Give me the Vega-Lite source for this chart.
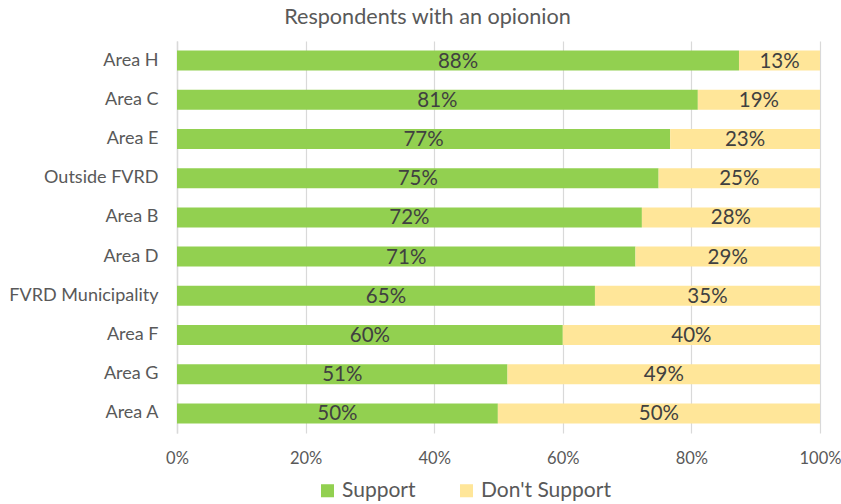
{
  "$schema": "https://vega.github.io/schema/vega-lite/v6.json",
  "width": 643,
  "height": 392,
  "autosize": "none",
  "padding": {"left": 177, "top": 41, "right": 21, "bottom": 71},
  "background": "white",
  "view": {"stroke": null},
  "title": {
    "text": "Respondents with an opionion",
    "anchor": "middle",
    "dx": -71,
    "offset": 12,
    "font": "Lato",
    "fontSize": 21.6,
    "fontWeight": "normal",
    "color": "#595959"
  },
  "data": {
    "values": [
      {"area": "Area H", "status": "Support", "ord": 1, "value": 87.4, "label": "88%"},
      {"area": "Area H", "status": "Don't Support", "ord": 2, "value": 12.6, "label": "13%"},
      {"area": "Area C", "status": "Support", "ord": 1, "value": 81.0, "label": "81%"},
      {"area": "Area C", "status": "Don't Support", "ord": 2, "value": 19.0, "label": "19%"},
      {"area": "Area E", "status": "Support", "ord": 1, "value": 76.7, "label": "77%"},
      {"area": "Area E", "status": "Don't Support", "ord": 2, "value": 23.3, "label": "23%"},
      {"area": "Outside FVRD", "status": "Support", "ord": 1, "value": 74.9, "label": "75%"},
      {"area": "Outside FVRD", "status": "Don't Support", "ord": 2, "value": 25.1, "label": "25%"},
      {"area": "Area B", "status": "Support", "ord": 1, "value": 72.3, "label": "72%"},
      {"area": "Area B", "status": "Don't Support", "ord": 2, "value": 27.7, "label": "28%"},
      {"area": "Area D", "status": "Support", "ord": 1, "value": 71.3, "label": "71%"},
      {"area": "Area D", "status": "Don't Support", "ord": 2, "value": 28.7, "label": "29%"},
      {"area": "FVRD Municipality", "status": "Support", "ord": 1, "value": 65.0, "label": "65%"},
      {"area": "FVRD Municipality", "status": "Don't Support", "ord": 2, "value": 35.0, "label": "35%"},
      {"area": "Area F", "status": "Support", "ord": 1, "value": 60.0, "label": "60%"},
      {"area": "Area F", "status": "Don't Support", "ord": 2, "value": 40.0, "label": "40%"},
      {"area": "Area G", "status": "Support", "ord": 1, "value": 51.4, "label": "51%"},
      {"area": "Area G", "status": "Don't Support", "ord": 2, "value": 48.6, "label": "49%"},
      {"area": "Area A", "status": "Support", "ord": 1, "value": 49.9, "label": "50%"},
      {"area": "Area A", "status": "Don't Support", "ord": 2, "value": 50.1, "label": "50%"}
    ]
  },
  "transform": [
    {"stack": "value", "groupby": ["area"], "sort": [{"field": "ord", "order": "ascending"}], "as": ["v0", "v1"]},
    {"calculate": "(datum.v0 + datum.v1) / 2", "as": "vmid"}
  ],
  "encoding": {
    "y": {
      "field": "area",
      "type": "nominal",
      "sort": ["Area H", "Area C", "Area E", "Outside FVRD", "Area B", "Area D", "FVRD Municipality", "Area F", "Area G", "Area A"],
      "scale": {"paddingInner": 0.49, "paddingOuter": 0.245},
      "axis": {
        "title": null,
        "ticks": false,
        "domain": true,
        "domainColor": "#d9d9d9",
        "domainWidth": 1.5,
        "labelFont": "Lato",
        "labelFontSize": 18,
        "labelColor": "#595959",
        "labelPadding": 19
      }
    }
  },
  "layer": [
    {
      "mark": {"type": "bar"},
      "encoding": {
        "x": {
          "field": "v0",
          "type": "quantitative",
          "scale": {"domain": [0, 100], "nice": false},
          "axis": {
            "title": null,
            "values": [0, 20, 40, 60, 80, 100],
            "labelExpr": "datum.value + '%'",
            "labelFlush": false,
            "ticks": false,
            "domain": false,
            "grid": true,
            "gridColor": "#d9d9d9",
            "gridWidth": 1.2,
            "labelFont": "Lato",
            "labelFontSize": 16.5,
            "labelColor": "#595959",
            "labelPadding": 17
          }
        },
        "x2": {"field": "v1"},
        "color": {
          "field": "status",
          "type": "nominal",
          "scale": {"domain": ["Support", "Don't Support"], "range": ["#92D050", "#FFE699"]},
          "legend": {
            "title": null,
            "orient": "none",
            "direction": "horizontal",
            "legendX": 140,
            "legendY": 439,
            "symbolType": "square",
            "symbolSize": 170,
            "symbolStrokeWidth": 0,
            "labelFont": "Lato",
            "labelFontSize": 21,
            "labelColor": "#595959",
            "columnPadding": 40,
            "labelOffset": 4
          }
        }
      }
    },
    {
      "mark": {"type": "text", "font": "Lato", "fontSize": 20.5, "color": "#404040", "baseline": "middle", "dy": 1},
      "encoding": {
        "x": {"field": "vmid", "type": "quantitative"},
        "text": {"field": "label"}
      }
    }
  ]
}
